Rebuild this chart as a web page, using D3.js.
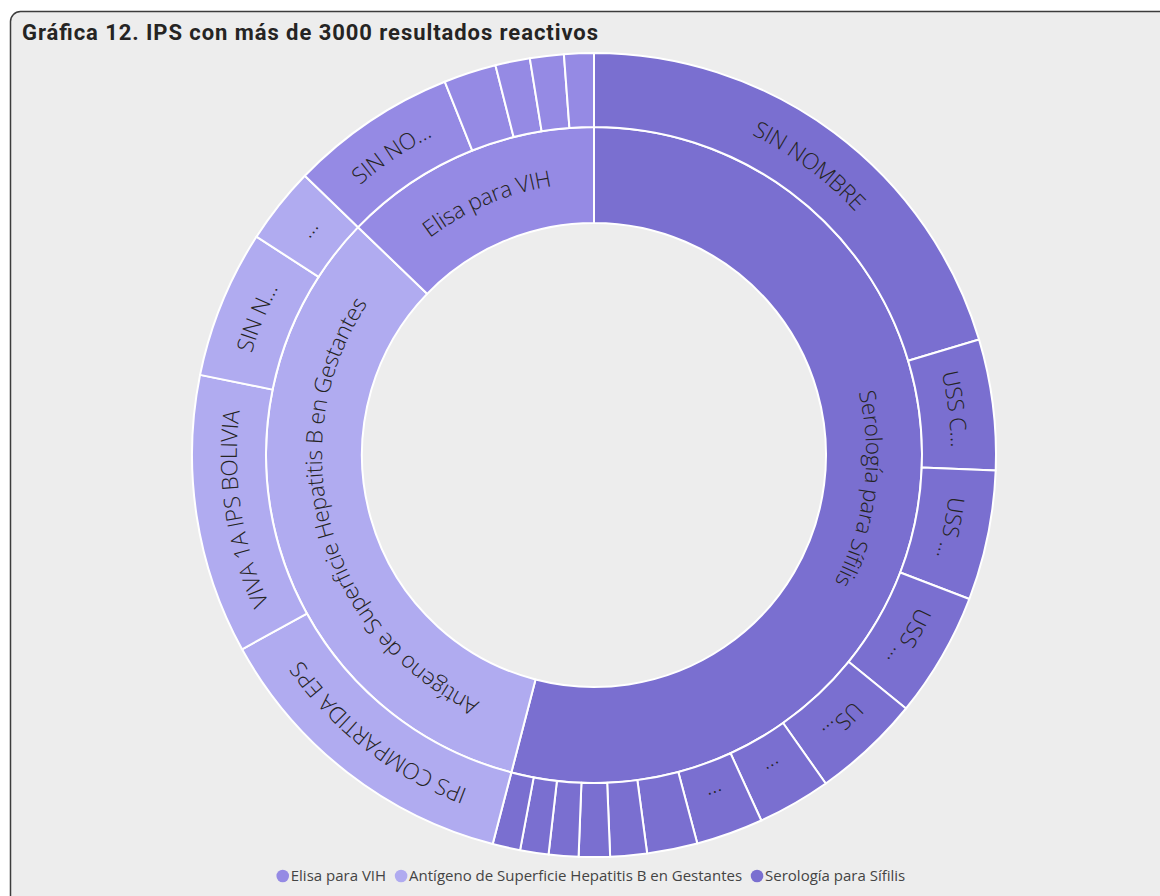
<!DOCTYPE html>
<html><head><meta charset="utf-8">
<script src="https://cdn.jsdelivr.net/npm/d3@7"></script>
<style>body{margin:0;background:#fff;} svg{display:block}</style>
</head><body><svg id="c" width="1160" height="896"></svg>
<script>
// ---- data ----
const title = "Gráfica 12. IPS con más de 3000 resultados reactivos";
const categories = ["Serología para Sífilis", "Antígeno de Superficie Hepatitis B en Gestantes", "Elisa para VIH"];
const legendOrder = ["Elisa para VIH", "Antígeno de Superficie Hepatitis B en Gestantes", "Serología para Sífilis"];
const categoryColors = ["#7A6FD0", "#B0ABF0", "#958AE4"];

const serologiaLabels = ["SIN NOMBRE", "USS C\u2026", "USS \u2026", "USS \u2026", "US\u2026", "\u2026", "\u2026", "", "", "", "", "", ""];
const serologiaValues = [57170, 14740, 14660, 14120, 12250, 8270, 7570, 5690, 4130, 3510, 3350, 3200, 3120];
const antigenoLabels = ["IPS COMPARTIDA EPS", "VIVA 1A IPS BOLIVIA", "SIN N\u2026", "\u2026"];
const antigenoValues = [36270, 31510, 16690, 8660];
const elisaLabels = ["SIN NO\u2026", "", "", "", ""];
const elisaValues = [18880, 5930, 3900, 3820, 3350];

const childLabels = [serologiaLabels, antigenoLabels, elisaLabels];
const childValues = [serologiaValues, antigenoValues, elisaValues];

// ---- layout ----
const svg = d3.select("#c");
svg.append("rect").attr("x", 10.5).attr("y", 11.5).attr("width", 1170).attr("height", 900)
  .attr("rx", 10).attr("fill", "#EDEDED").attr("stroke", "#3c3c3c").attr("stroke-width", 1.5);

svg.append("text").attr("x", 22).attr("y", 40).text(title)
  .attr("font-family", "Roboto, sans-serif").attr("font-weight", 700).attr("font-size", 22)
  .attr("textLength", 576).attr("lengthAdjust", "spacing").attr("fill", "#252423");

const cx = 594, cy = 455;
const g = svg.append("g").attr("transform", `translate(${cx},${cy})`);

const rootData = {name: "root", children: categories.map((c, i) => ({
  name: c, cat: i,
  children: childLabels[i].map((l, j) => ({name: l, cat: i, value: childValues[i][j]}))
}))};
const root = d3.hierarchy(rootData).sum(d => d.value || 0);
d3.partition().size([2 * Math.PI, 3])(root);
const rScale = d3.scaleLinear().domain([1, 2, 3]).range([232, 328, 402]);
const color = d3.scaleOrdinal().domain(d3.range(categories.length)).range(categoryColors);

const arc = d3.arc().startAngle(d => d.x0).endAngle(d => d.x1)
  .innerRadius(d => rScale(d.y0)).outerRadius(d => rScale(d.y1));
const nodes = root.descendants().filter(d => d.depth > 0);

g.selectAll("path.seg").data(nodes).join("path").attr("class", "seg")
  .attr("d", arc).attr("fill", d => color(d.data.cat))
  .attr("stroke", "#fff").attr("stroke-width", 2).attr("stroke-linejoin", "round");

function labelPath(d) {
  const r = (rScale(d.y0) + rScale(d.y1)) / 2;
  const a0 = d.x0, a1 = d.x1;
  const p0 = [r * Math.sin(a0), -r * Math.cos(a0)], p1 = [r * Math.sin(a1), -r * Math.cos(a1)];
  const large = (a1 - a0) > Math.PI ? 1 : 0;
  return `M${p0[0]},${p0[1]}A${r},${r} 0 ${large} 1 ${p1[0]},${p1[1]}`;
}
const labeled = nodes.filter(d => d.data.name);
const defs = svg.append("defs");
labeled.forEach((d, i) => defs.append("path").attr("id", "lp" + i).attr("d", labelPath(d)));
g.selectAll("text.lbl").data(labeled).join("text").attr("class", "lbl")
  .attr("font-family", "'Segoe UI', 'Open Sans', sans-serif").attr("font-size", 22.5).attr("font-weight", 350)
  .attr("fill", "#252423").attr("dy", "0.35em")
  .append("textPath").attr("href", (d, i) => "#lp" + i)
  .attr("startOffset", "50%").attr("text-anchor", "middle").text(d => d.data.name);

// legend
const leg = svg.append("g").attr("font-family", "'Segoe UI', 'Open Sans', sans-serif").attr("font-size", 15);
let lx = 0;
legendOrder.forEach(name => {
  const ci = categories.indexOf(name);
  leg.append("circle").attr("cx", lx + 6).attr("cy", 876).attr("r", 6.3).attr("fill", color(ci));
  const t = leg.append("text").attr("x", lx + 14).attr("y", 881).attr("fill", "#444").text(name);
  lx += 14 + t.node().getComputedTextLength() + 9;
});
const legW = lx - 9;
leg.attr("transform", `translate(${591 - legW / 2},0)`);
</script></body></html>
